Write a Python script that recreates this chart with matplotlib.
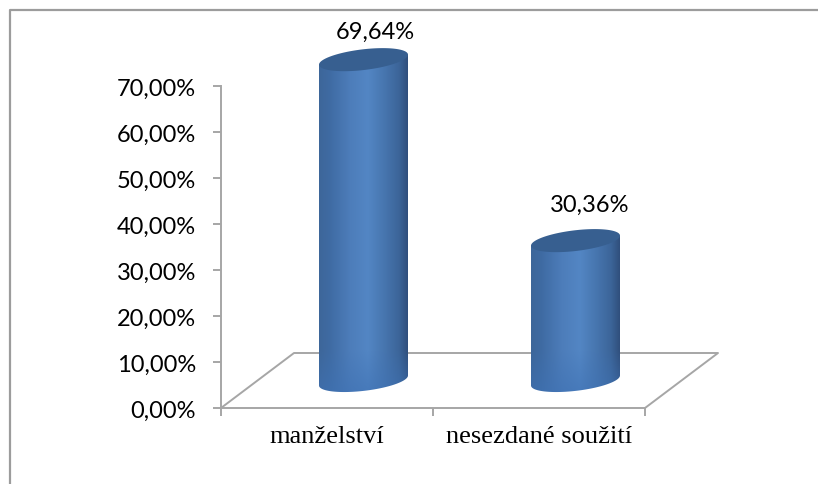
import numpy as np
import matplotlib
matplotlib.use("Agg")
import matplotlib.pyplot as plt
from matplotlib.colors import LinearSegmentedColormap, to_rgb
from matplotlib.lines import Line2D
from matplotlib.patches import Polygon
from matplotlib.ticker import FuncFormatter
from matplotlib.transforms import ScaledTranslation

categories = ["manželství", "nesezdané soužití"]
values = [69.64, 30.36]
value_labels = ["69,64%", "30,36%"]
y_ticks = [0, 10, 20, 30, 40, 50, 60, 70]

W, H = 818, 484
GRAY = "#a6a6a6"
fig = plt.figure(figsize=(W / 100, H / 100), dpi=100, facecolor="white")
fig.add_artist(Line2D([9.5 / W, 9.5 / W, 1], [0, 1 - 9.8 / H, 1 - 9.8 / H],
                      transform=fig.transFigure, color="#9c9c9c", lw=1.6))

x0, x1, y_top, y_bot = 221, 645, 85.5, 408
ax = fig.add_axes([x0 / W, 1 - y_bot / H, (x1 - x0) / W, (y_bot - y_top) / H])
ax.set_xlim(0, 2)
ax.set_ylim(0, 70)
ax.patch.set_alpha(0)
for s in ("top", "right"):
    ax.spines[s].set_visible(False)
for s in ("left", "bottom"):
    ax.spines[s].set_color(GRAY)
    ax.spines[s].set_linewidth(1.4)
ax.set_yticks(y_ticks)
ax.yaxis.set_major_formatter(FuncFormatter(lambda v, p: f"{v:.2f}%".replace(".", ",")))
ax.set_xticks([0, 1, 2])
ax.set_xticklabels([])
ax.set_xticks([0.5, 1.5], minor=True)
ax.set_xticklabels(categories, minor=True, family="Liberation Serif", fontsize=19, color="black")
ax.tick_params(axis="x", which="minor", length=0, pad=13)
ax.tick_params(axis="both", which="major", length=6, width=1.4, color=GRAY)
ax.tick_params(axis="y", labelsize=17, pad=12)
shift = ScaledTranslation(0, -1.5 / 100, fig.dpi_scale_trans)
for t in ax.get_yticklabels():
    t.set_family("Lato")
    t.set_transform(t.get_transform() + shift)

# pixel-per-unit helpers; depth offset of the 3D floor
ux = (x1 - x0) / 2
uy = (y_bot - y_top) / 70
dx, dy = 73, 55
ax.plot([0, dx / ux, 2 + dx / ux, 2], [0, dy / uy, dy / uy, 0], color=GRAY, lw=1.4,
        clip_on=False, zorder=1.5)

cmap = LinearSegmentedColormap.from_list("cyl", [
    (0.00, "#3d6699"), (0.12, "#3f6ba3"), (0.35, "#4d7dba"), (0.55, "#5386c4"),
    (0.75, "#4674ad"), (0.90, "#3c6599"), (1.00, "#304f7c")])
half_w, b, s = 44.5 / ux, 10.4 / uy, 5 / uy
t = np.linspace(0, np.pi, 60)
label_dx = [11.5, 14]     # label shift from bar centre, px
label_dy = [27.5, 35.5]
bottom_tint = np.array(to_rgb("#3f72b4"))
for i, v in enumerate(values):
    cx = i + 0.5 + dx / 2 / ux
    base = dy / 2 / uy
    top = base + v
    outline = np.r_[np.c_[cx - half_w * np.cos(t), base - b * np.sin(t) - s * np.cos(t)],
                    [[cx + half_w, top + s], [cx - half_w, top - s]]]
    body = Polygon(outline, closed=True, transform=ax.transData, fc="none", ec="none")
    ax.add_patch(body)
    body.set_clip_on(False)
    ylo, yhi = base - 3 * b, top + 3 * b
    rows = np.linspace(yhi, ylo, 400)
    rgb = np.repeat(cmap(np.linspace(0, 1, 256))[None, :, :3], 400, axis=0)
    w = np.clip((base + 3 * b - rows) / (5 * b), 0, 1)[:, None, None] * 0.75
    rgb = rgb * (1 - w) + bottom_tint * w
    im = ax.imshow(rgb, aspect="auto", extent=[cx - half_w, cx + half_w, ylo, yhi], zorder=3)
    im.set_clip_box(fig.bbox)
    im.set_clip_path(body)
    tt = np.linspace(0, 2 * np.pi, 120)
    cap = Polygon(np.c_[cx + half_w * np.cos(tt), top + b * np.sin(tt) + s * np.cos(tt)],
                  closed=True, fc="#375f90", ec="none", zorder=4, clip_on=False)
    ax.add_patch(cap)
    ax.text(cx + label_dx[i] / ux, top + label_dy[i] / uy, value_labels[i], ha="center", va="center",
            family="Lato", fontsize=17, color="black", clip_on=False, zorder=5)
ax.set_xlim(0, 2)
ax.set_ylim(0, 70)
fig.savefig("out.png", dpi=100, facecolor="white")
